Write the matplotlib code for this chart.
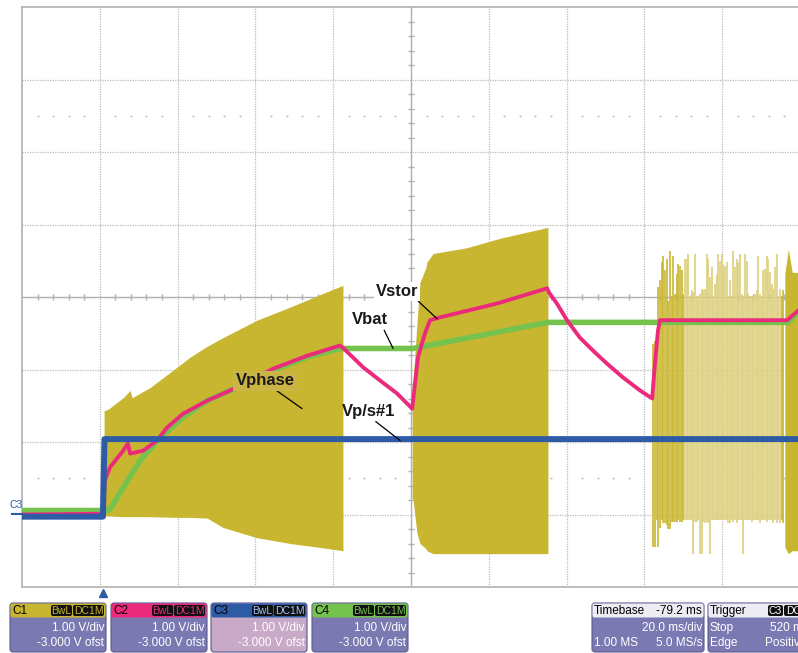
import matplotlib.pyplot as plt
import numpy as np
from matplotlib.patches import FancyBboxPatch

plt.rcParams['font.family'] = ['Liberation Sans', 'DejaVu Sans']

# ---- traces (time in ms from left edge of screen, volts) ----
# C3 : Vp/s#1 (blue)
vps_t = [0, 20.8, 21.2, 200]
vps_v = [-0.03, -0.03, 1.04, 1.04]

# C4 : Vbat (green)
vbat_t = [0, 22.1, 22.6, 26.0, 30.3, 35.5, 41.4, 47.6, 53.5, 60.4, 65.6, 73.3,
          81.7, 100.5, 135.2, 196.9, 199.5]
vbat_v = [0.055, 0.055, 0.07, 0.37, 0.74, 1.06, 1.34, 1.57, 1.71, 1.85, 2.01, 2.17,
          2.29, 2.29, 2.65, 2.65, 2.79]

# C2 : Vstor (pink)
vstor_t = [0, 20.8, 21.3, 22.6, 26.0, 27.2, 27.8, 31.1, 34.7, 37.3, 41.4, 47.6, 53.5,
           64.5, 73.3, 81.7, 82.5, 87.7, 92.0, 96.4, 100.3, 101.8, 103.6, 104.9,
           107.5, 122.1, 135.0, 135.5, 137.5, 140.1, 143.4, 146.8, 150.4, 154.5,
           158.9, 162.0, 162.7, 163.5, 164.0, 196.7, 199.5]
vstor_v = [0.0, 0.01, 0.47, 0.65, 0.88, 0.98, 0.84, 0.88, 1.02, 1.20, 1.39, 1.57, 1.71,
           2.01, 2.19, 2.33, 2.30, 2.03, 1.85, 1.67, 1.46, 2.17, 2.50, 2.68,
           2.72, 2.91, 3.12, 3.06, 2.91, 2.68, 2.44, 2.26, 2.08, 1.89,
           1.71, 1.60, 2.08, 2.54, 2.68, 2.68, 2.81]

# C1 : Vphase (yellow) - switching envelope, burst 1
b1_t = [21.1, 22.1, 26.0, 27.8, 28.3, 32.9, 39.8, 43.2, 47.6, 51.7, 60.4, 68.9, 77.4, 82.5]
b1_top = [1.43, 1.45, 1.61, 1.71, 1.61, 1.75, 2.03, 2.17, 2.32, 2.44, 2.68, 2.86, 3.05, 3.16]
b1_bot = [-0.02, -0.02, -0.03, -0.03, -0.03, -0.03, -0.04, -0.04, -0.05, -0.18, -0.32, -0.40, -0.46, -0.50]

# burst 2
b2_t = [100.3, 100.5, 101.5, 102.3, 103.8, 104.1, 105.7, 114.4, 122.9, 135.2]
b2_top = [1.82, 1.82, 2.61, 3.20, 3.40, 3.48, 3.60, 3.68, 3.81, 3.96]
b2_bot = [0.22, 0.22, -0.25, -0.40, -0.47, -0.50, -0.54, -0.54, -0.54, -0.54]

# burst 3 : individual switching spikes
spk_top = [2.35, 2.40, 2.49, 3.14, 3.23, 3.48, 3.57, 3.37, 3.53, 2.95,
           3.64, 3.02, 3.57, 3.04, 3.32, 3.46, 3.43, 3.37, 3.04, 3.53,
           3.53, 3.60, 3.02, 3.09, 3.07, 3.60, 3.02, 3.02, 3.04, 3.11,
           3.09, 3.11, 3.60, 3.53, 3.27, 3.41, 3.02, 3.18, 3.32, 3.60,
           3.50, 3.60, 3.46, 3.43, 3.48, 3.02, 3.23, 3.02, 3.64, 3.41,
           3.53, 3.48, 3.60, 3.04, 3.02, 3.60, 3.50, 3.04, 3.02, 3.02,
           3.02, 3.04, 3.09, 3.57, 3.04, 3.02, 3.37, 3.39, 3.57, 3.53,
           3.34, 3.18, 3.11, 3.41, 3.60, 3.02, 3.11, 3.02, 3.09]
spk_bot = [-0.45, -0.45, -0.08, -0.45, -0.18, -0.08, -0.12, -0.12, -0.15, -0.20,
           -0.20, -0.10, -0.10, -0.10, -0.10, -0.08, -0.10, -0.10, -0.08, -0.08,
           -0.08, -0.08, -0.08, -0.08, -0.54, -0.10, -0.10, -0.08, -0.54, -0.54,
           -0.10, -0.12, -0.10, -0.12, -0.54, -0.08, -0.08, -0.08, -0.08, -0.08,
           -0.08, -0.08, -0.08, -0.08, -0.08, -0.12, -0.12, -0.08, -0.10, -0.08,
           -0.12, -0.08, -0.08, -0.08, -0.54, -0.08, -0.08, -0.08, -0.08, -0.10,
           -0.08, -0.08, -0.08, -0.08, -0.12, -0.08, -0.08, -0.08, -0.10, -0.08,
           -0.08, -0.08, -0.12, -0.08, -0.12, -0.08, -0.12, -0.08, -0.12]
spk_t = np.linspace(162.3, 195.7, len(spk_top))

# dense end of burst 3
b3_t = [196.1, 197.0, 198.0, 199.5]
b3_top = [3.32, 3.66, 3.34, 3.34]
b3_bot = [-0.45, -0.54, -0.50, -0.50]

YEL = '#c8b630'
YEL_L = '#dcd07e'
PINK = '#ec2a7c'
BLUE = '#2d5ba6'
GREEN = '#76c24f'
GRID = '#bcbcbc'

fig = plt.figure(figsize=(7.98, 6.53), dpi=100)
ax = fig.add_axes([22 / 798, 1 - 587 / 653, 778 / 798, 580 / 653])
ax.set_xlim(0, 200)
ax.set_ylim(-1, 7)

# graticule
for x in np.arange(20, 200, 20):
    if x == 100:
        ax.axvline(x, color='#b0b0b0', lw=1.0, zorder=0)
    else:
        ax.axvline(x, color=GRID, lw=0.9, ls=(0, (1, 1)), zorder=0)
for y in range(0, 7):
    if y == 3:
        ax.axhline(y, color='#b0b0b0', lw=1.0, zorder=0)
    else:
        ax.axhline(y, color=GRID, lw=0.9, ls=(0, (1, 1)), zorder=0)
minor_x = [x for x in np.arange(4, 200, 4) if x % 20 != 0]
minor_y = [y for y in np.arange(-0.8, 7, 0.2) if abs(y - round(y)) > 0.05]
ax.vlines(minor_x, 3 - 0.045, 3 + 0.045, color='#b0b0b0', lw=1.0, zorder=0)
ax.hlines(minor_y, 100 - 0.8, 100 + 0.8, color='#b0b0b0', lw=1.0, zorder=0)
for yy in (0.5, 5.5):
    ax.plot(minor_x, [yy] * len(minor_x), ls='none', marker='s', ms=1.2,
            color='#b8b8b8', mew=0, zorder=0)

# Vphase bursts
ax.fill_between(b1_t, b1_bot, b1_top, color=YEL, lw=0, zorder=1)
ax.fill_between(b2_t, b2_bot, b2_top, color=YEL, lw=0, zorder=1)
n = len(spk_t)
dark = [i for i in range(n) if i < 19 or i > n - 3]
light = [i for i in range(n) if i not in dark]
ax.vlines(spk_t[light], np.array(spk_bot)[light], np.array(spk_top)[light],
          color=YEL_L, lw=1.2, zorder=1)
ax.vlines(spk_t[dark], np.array(spk_bot)[dark], np.array(spk_top)[dark],
          color=YEL, lw=1.2, zorder=1)
ax.fill_between(b3_t, b3_bot, b3_top, color=YEL, lw=0, zorder=1)

# traces
ax.plot(vbat_t, vbat_v, color=GREEN, lw=4.0, zorder=3, solid_joinstyle='miter')
ax.plot(vstor_t, vstor_v, color=PINK, lw=2.8, zorder=4)
ax.plot(vps_t, vps_v, color=BLUE, lw=4.3, zorder=5)

for s in ax.spines.values():
    s.set_color('#b0b0b0')
    s.set_linewidth(1.2)
ax.set_xticks([])
ax.set_yticks([])

# labels with leader lines
lab = dict(fontsize=12, fontweight='bold', color='#1a1a1a', zorder=6,
           ha='center', va='bottom')


def leader(rx):
    return dict(arrowstyle='-', color='black', lw=0.9, shrinkA=0, shrinkB=0,
                relpos=(rx, 0))


ax.annotate('Vstor', xy=(106.7, 2.70), xytext=(96.4, 2.97), **lab,
            bbox=dict(boxstyle='square,pad=0.12', fc='white', ec='none'),
            arrowprops=leader(0.95))
ax.annotate('Vbat', xy=(95.4, 2.29), xytext=(89.5, 2.58), **lab,
            arrowprops=leader(0.85))
ax.annotate('Vphase', xy=(72.0, 1.46), xytext=(62.5, 1.74), **lab,
            bbox=dict(boxstyle='square,pad=0.15', fc='#c9b445', ec='none'),
            arrowprops=leader(0.64))
ax.annotate('Vp/s#1', xy=(97.2, 1.02), xytext=(89.2, 1.32), **lab,
            arrowprops=leader(0.56))

# ---- scope chrome (pixel coordinates) ----
ov = fig.add_axes([0, 0, 1, 1], zorder=10)
ov.set_xlim(0, 798)
ov.set_ylim(653, 0)
ov.axis('off')
ov.patch.set_alpha(0)

ov.text(16, 505, 'C3', color=BLUE, fontsize=7.5, ha='center', va='center')
ov.plot([12, 22], [514, 514], color=BLUE, lw=1.5)
ov.plot([103], [593], marker='^', color=BLUE, ms=6)

BODY = '#7b79b1'
chans = [('C1', 10, YEL, BODY), ('C2', 111, PINK, BODY),
         ('C3', 211, BLUE, '#c9a9c8'), ('C4', 312, GREEN, BODY)]
for name, x0, hc, bc in chans:
    ov.add_patch(FancyBboxPatch((x0, 603), 96, 49, boxstyle='round,pad=0,rounding_size=3',
                                fc=bc, ec='#5a5890', lw=0.8))
    ov.add_patch(FancyBboxPatch((x0 + 0.5, 603.5), 95, 14, boxstyle='round,pad=0,rounding_size=2',
                                fc=hc, ec='none'))
    ov.text(x0 + 2, 611, name, fontsize=8.5, color='black', va='center', ha='left')
    badge_c = hc if name != 'C3' else '#9fc0ff'
    ov.add_patch(FancyBboxPatch((x0 + 41, 605), 21, 11, boxstyle='round,pad=0,rounding_size=2',
                                fc='#111111', ec='none'))
    ov.add_patch(FancyBboxPatch((x0 + 63, 605), 31, 11, boxstyle='round,pad=0,rounding_size=2',
                                fc='#111111', ec='none'))
    ov.text(x0 + 51.5, 610.8, 'BwL', fontsize=7.5, color=badge_c, ha='center', va='center')
    ov.text(x0 + 78.5, 610.8, 'DC1M', fontsize=7.5, color=badge_c, ha='center', va='center')
    ov.text(x0 + 94, 628, '1.00 V/div', fontsize=8.5, color='white', ha='right', va='center')
    ov.text(x0 + 94, 643, '-3.000 V ofst', fontsize=8.5, color='white', ha='right', va='center')

for x0, w in ((592, 112), (708, 100)):
    ov.add_patch(FancyBboxPatch((x0, 603), w, 49, boxstyle='round,pad=0,rounding_size=3',
                                fc=BODY, ec='#5a5890', lw=0.8))
    ov.add_patch(FancyBboxPatch((x0 + 0.5, 603.5), w - 1, 14, boxstyle='round,pad=0,rounding_size=2',
                                fc='#ececf2', ec='none'))
ov.text(594, 611, 'Timebase', fontsize=8.5, color='black', va='center')
ov.text(702, 611, '-79.2 ms', fontsize=8.5, color='black', va='center', ha='right')
ov.text(702, 628, '20.0 ms/div', fontsize=8.5, color='white', va='center', ha='right')
ov.text(594, 643, '1.00 MS', fontsize=8.5, color='white', va='center')
ov.text(702, 643, '5.0 MS/s', fontsize=8.5, color='white', va='center', ha='right')
ov.text(710, 611, 'Trigger', fontsize=8.5, color='black', va='center')
ov.add_patch(FancyBboxPatch((768, 605), 15, 11, boxstyle='round,pad=0,rounding_size=2',
                            fc='#111111', ec='none'))
ov.add_patch(FancyBboxPatch((784, 605), 20, 11, boxstyle='round,pad=0,rounding_size=2',
                            fc='#111111', ec='none'))
ov.text(775.5, 610.8, 'C3', fontsize=7.5, color='white', ha='center', va='center')
ov.text(786, 610.8, 'DC', fontsize=7.5, color='white', ha='left', va='center')
ov.text(710, 628, 'Stop', fontsize=8.5, color='white', va='center')
ov.text(770, 628, '520 mV', fontsize=8.5, color='white', va='center')
ov.text(710, 643, 'Edge', fontsize=8.5, color='white', va='center')
ov.text(765, 643, 'Positive', fontsize=8.5, color='white', va='center')

fig.savefig('out.png', dpi=100)
